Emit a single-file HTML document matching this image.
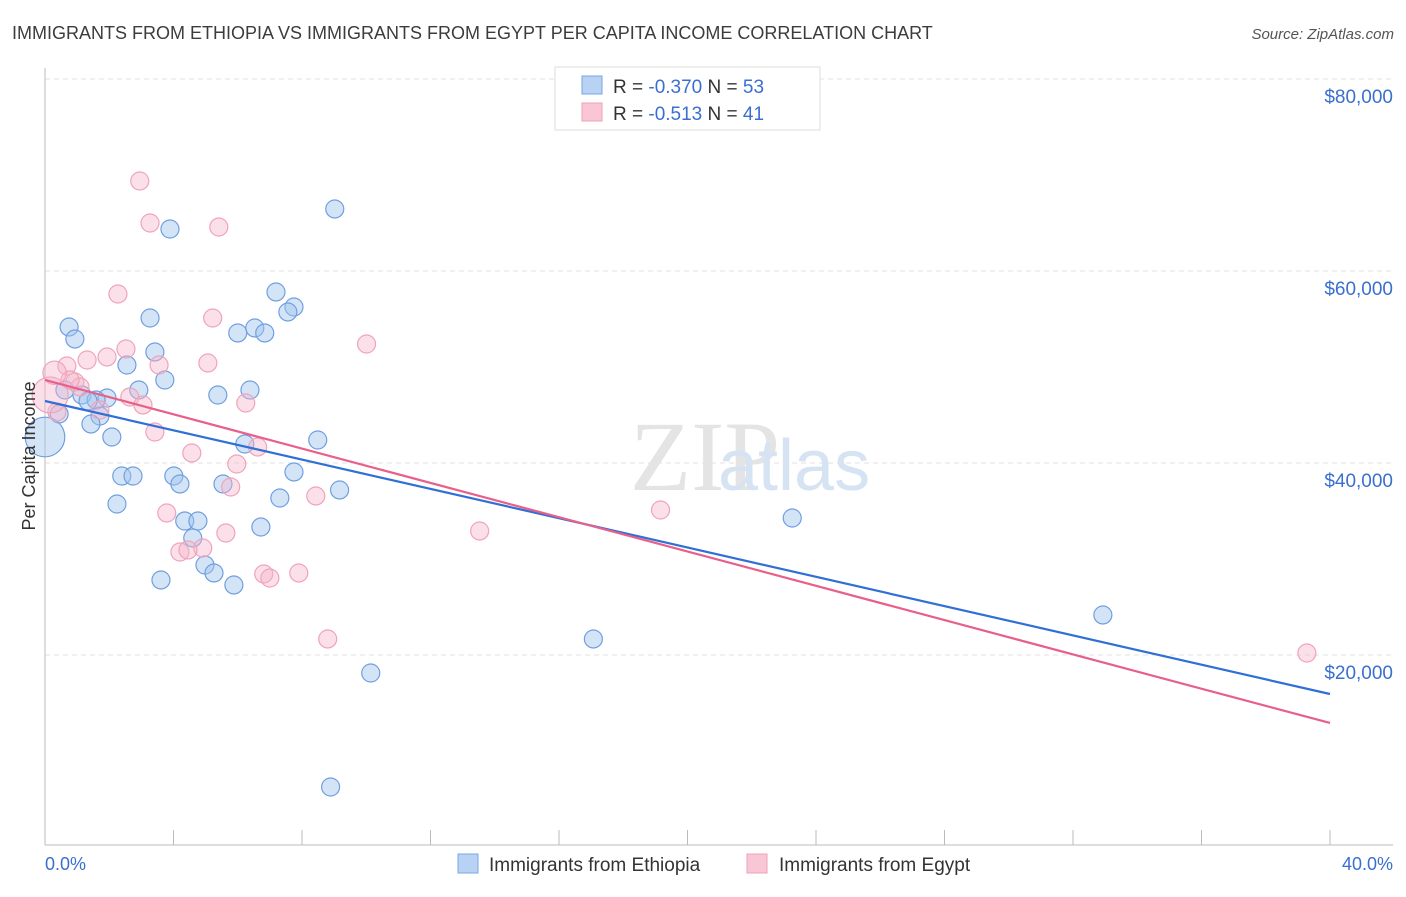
<!DOCTYPE html>
<html><head><meta charset="utf-8"><style>
body{margin:0;background:#fff;font-family:"Liberation Sans",sans-serif}
</style></head><body>
<svg id="chart" width="1406" height="892" xmlns="http://www.w3.org/2000/svg">
<text x="12" y="39" font-size="18" fill="#3c3c3c">IMMIGRANTS FROM ETHIOPIA VS IMMIGRANTS FROM EGYPT PER CAPITA INCOME CORRELATION CHART</text>
<text x="1394" y="39" font-size="15" fill="#555" font-style="italic" text-anchor="end">Source: ZipAtlas.com</text>
<g id="grid"></g>
<text x="630" y="490" font-size="100" fill="#e4e4e4" font-family="Liberation Serif,serif">ZIP</text>
<text x="718" y="490" font-size="72" fill="#d6e3f3">atlas</text>
<g id="axes"></g>
<g id="points"></g>
<g id="lines"></g>
<text transform="translate(35,456) rotate(-90)" font-size="18" fill="#333" text-anchor="middle">Per Capita Income</text>
<text x="45" y="870" font-size="18" fill="#3a6fd0">0.0%</text>
<text x="1393" y="870" font-size="18" fill="#3a6fd0" text-anchor="end">40.0%</text>
<g>
<rect x="555" y="67" width="265" height="63" fill="#fff" stroke="#ddd"/>
<rect x="582" y="76" width="20" height="18" fill="#b8d2f3" stroke="#7aa6e2"/>
<rect x="582" y="103" width="20" height="18" fill="#f9c6d5" stroke="#f0a0b8"/>
<text x="613" y="93" font-size="19" fill="#333">R = <tspan fill="#3a6fd0">-0.370</tspan>    N = <tspan fill="#3a6fd0">53</tspan></text>
<text x="613" y="120" font-size="19" fill="#333">R =  <tspan fill="#3a6fd0">-0.513</tspan>    N =  <tspan fill="#3a6fd0">41</tspan></text>
</g>
<g>
<rect x="458" y="854" width="20" height="19" fill="#b8d2f3" stroke="#7aa6e2"/>
<text x="489" y="871" font-size="19" fill="#333">Immigrants from Ethiopia</text>
<rect x="747" y="854" width="20" height="19" fill="#f9c6d5" stroke="#f0a0b8"/>
<text x="779" y="871" font-size="19" fill="#333">Immigrants from Egypt</text>
</g>
</svg>
<script>
const yTicks=[20000,40000,60000,80000];
const yTickLabels=["$20,000","$40,000","$60,000","$80,000"];
const xTicks=[0,4,8,12,16,20,24,28,32,36,40];
const ethX=[9.02,3.89,7.19,7.75,7.56,3.27,0.75,6.53,6.00,6.84,0.93,3.42,2.55,3.73,0.62,2.92,6.38,1.15,5.38,1.93,1.59,1.34,1.71,1.43,0.44,2.08,6.22,8.49,2.39,2.74,4.01,4.20,7.75,5.54,9.17,2.24,7.31,4.35,4.76,6.72,4.60,4.98,5.26,3.61,5.88,23.26,17.07,32.93,10.14,8.89,0];
const ethY=[66460,64375,57813,56250,55730,55104,54167,54063,53542,53542,52917,51563,50208,48646,47604,47604,47604,47083,47083,46771,46563,46458,44896,44063,45104,42708,41979,42396,38646,38646,38646,37813,39063,37813,37188,35729,36354,33958,33958,33333,32188,29375,28542,27813,27292,34271,21667,24167,18125,6250,42708];
const ethSize=[1,1,1,1,1,1,1,1,1,1,1,1,1,1,1,1,1,1,1,1,1,1,1,1,1,1,1,1,1,1,1,1,1,1,1,1,1,1,1,1,1,1,1,1,1,1,1,1,1,1,2.2];
const egX=[2.95,3.27,5.41,2.27,5.22,10.01,2.52,1.93,1.31,5.07,3.55,0.68,0.93,1.09,0.78,2.64,3.05,6.25,1.71,3.42,4.57,0.37,5.97,6.62,5.78,8.43,3.79,13.53,19.16,5.63,4.91,4.20,4.45,6.81,7.00,7.90,8.80,39.28,0.16,0.3];
const egY=[69375,65000,64583,57604,55104,52396,51875,51042,50729,50417,50208,50104,48438,47917,48646,46875,46042,46250,45521,43229,41042,45313,39896,41667,37500,36563,34792,32917,35104,32708,31146,30729,30938,28438,28021,28542,21667,20208,47083,49400];
const egSize=[1,1,1,1,1,1,1,1,1,1,1,1,1,1,1,1,1,1,1,1,1,1,1,1,1,1,1,1,1,1,1,1,1,1,1,1,1,1,2,1.3];
const ethTrend=[46458,15937];
const egTrend=[48646,12917];
const NS="http://www.w3.org/2000/svg";
const X=v=>45+v/40*1285, Y=v=>847-v/20000*192;
function mk(t,a,p){const e=document.createElementNS(NS,t);for(const k in a)e.setAttribute(k,a[k]);p.appendChild(e);return e;}
const grid=document.getElementById('grid'),axes=document.getElementById('axes'),pts=document.getElementById('points'),ln=document.getElementById('lines');
yTicks.forEach((t,i)=>{
 const g=mk('line',{x1:45,x2:1393,y1:Y(t),y2:Y(t),stroke:'#e2e2e2','stroke-dasharray':'5,4'},grid);
 
 
 const l=mk('text',{x:1393,y:Y(t)+24,'font-size':19,fill:'#3a6fd0','text-anchor':'end'},grid);
 l.textContent=yTickLabels[i];
 
 
});
const ax=mk('line',{x1:45,x2:1393,y1:845,y2:845,stroke:'#bbb'},axes);


const ay=mk('line',{x1:45,x2:45,y1:68,y2:845,stroke:'#bbb'},axes);


xTicks.forEach(t=>{
 const k=mk('line',{x1:X(t),x2:X(t),y1:830,y2:845,stroke:'#bbb'},axes);
 
 
});
ethX.forEach((x,i)=>{
 const c=mk('circle',{cx:X(x),cy:Y(ethY[i]),r:9*ethSize[i],fill:'rgba(160,195,238,0.45)',stroke:'#6f9fe0','stroke-width':1.2},pts);
 
 
});
egX.forEach((x,i)=>{
 const c=mk('circle',{cx:X(x),cy:Y(egY[i]),r:9*egSize[i],fill:'rgba(246,182,202,0.42)',stroke:'#f0a3ba','stroke-width':1.2},pts);
 
 
});
const t1=mk('line',{x1:X(0),y1:Y(ethTrend[0]),x2:X(40),y2:Y(ethTrend[1]),stroke:'#2f6fd6','stroke-width':2.2},ln);


const t2=mk('line',{x1:X(0),y1:Y(egTrend[0]),x2:X(40),y2:Y(egTrend[1]),stroke:'#e8608a','stroke-width':2.2},ln);


</script>
</body></html>
